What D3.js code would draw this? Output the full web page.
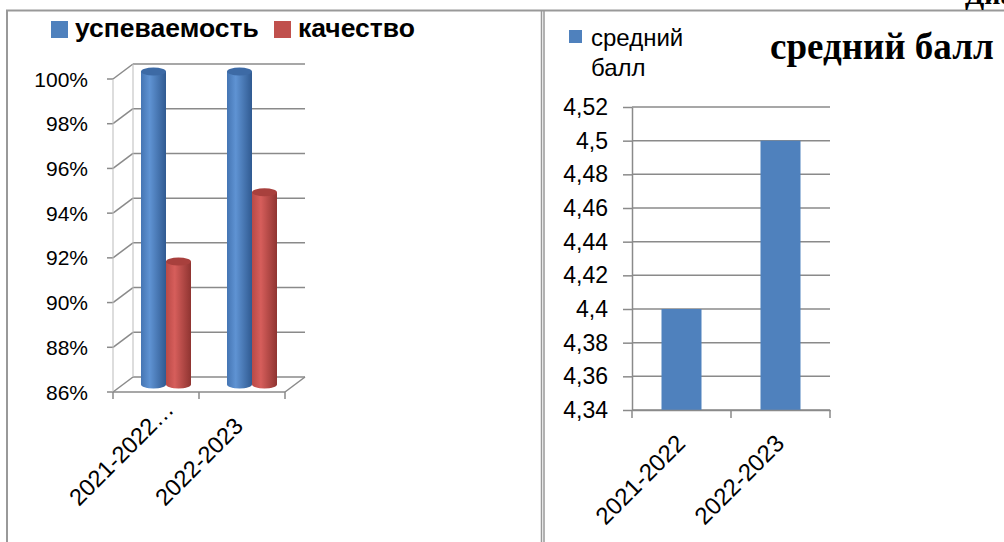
<!DOCTYPE html>
<html lang="ru">
<head>
<meta charset="utf-8">
<title>успеваемость и средний балл</title>
<script src="https://cdnjs.cloudflare.com/ajax/libs/d3/7.8.5/d3.min.js"></script>
<style>
  body { margin: 0; background: #fff; }
  svg text { font-family: "Liberation Sans", Arial, sans-serif; fill: #000; }
</style>
</head>
<body>
<div id="chart"></div>
<script>
// --- data ---
var categories = ["2021-2022…", "2022-2023"];
var seriesNames = ["успеваемость", "качество"];
var uspevaemost = [100, 100];
var kachestvo = [91.5, 94.6];
var leftTicks = [86, 88, 90, 92, 94, 96, 98, 100];

var avgCategories = ["2021-2022", "2022-2023"];
var avgScore = [4.4, 4.5];
var rightTicks = [4.34, 4.36, 4.38, 4.4, 4.42, 4.44, 4.46, 4.48, 4.5, 4.52];

var blue = "#4F81BD", red = "#C0504D", grid = "#8a8a8a";

var svg = d3.select("#chart").append("svg")
    .attr("width", 1004)
    .attr("height", 542);

// frames
svg.append("line").attr("x1", 6).attr("x2", 1004).attr("y1", 10.5).attr("y2", 10.5)
   .attr("stroke", "#999").attr("stroke-width", 2);
svg.append("line").attr("x1", 7).attr("x2", 7).attr("y1", 10).attr("y2", 542)
   .attr("stroke", "#999").attr("stroke-width", 2);
svg.append("line").attr("x1", 541.5).attr("x2", 541.5).attr("y1", 10).attr("y2", 542)
   .attr("stroke", "#999").attr("stroke-width", 1.5);
svg.append("line").attr("x1", 544).attr("x2", 544).attr("y1", 10).attr("y2", 542)
   .attr("stroke", "#999").attr("stroke-width", 1.5);

// heading of the page, cut off at the top as in the original
svg.append("text").attr("x", 965).attr("y", 4)
   .style("font-family", "'Liberation Serif', serif").style("font-weight", "bold")
   .style("font-size", "28px").text("Диаграмма");

// ================= left: 3D cylinders =================
var dx = 20, dy = -15;   // depth of the 3D box
var yL = d3.scaleLinear().domain([86, 100]).range([392, 79]);
var xL = d3.scaleBand().domain(categories).range([113, 285]);

var defs = svg.append("defs");
function cylGrad(id, c1, c2, c3) {
  var g = defs.append("linearGradient").attr("id", id)
      .attr("x1", "0%").attr("x2", "100%").attr("y1", "0%").attr("y2", "0%");
  g.append("stop").attr("offset", "0%").attr("stop-color", c1);
  g.append("stop").attr("offset", "35%").attr("stop-color", c2);
  g.append("stop").attr("offset", "100%").attr("stop-color", c3);
}
cylGrad("gBlue", "#4575b3", "#5f93d3", "#305a91");
cylGrad("gRed", "#b94a47", "#d65e5b", "#8f3431");

var left = svg.append("g");

// back wall gridlines + side wall diagonals
leftTicks.forEach(function(t) {
  var y = yL(t);
  left.append("line").attr("x1", xL.range()[0] + dx).attr("x2", xL.range()[1] + dx)
      .attr("y1", y + dy).attr("y2", y + dy).attr("stroke", grid).attr("stroke-width", 1.5);
  left.append("line").attr("x1", xL.range()[0]).attr("x2", xL.range()[0] + dx)
      .attr("y1", y).attr("y2", y + dy).attr("stroke", grid).attr("stroke-width", 1.5);
  left.append("line").attr("x1", xL.range()[0] - 6).attr("x2", xL.range()[0])
      .attr("y1", y).attr("y2", y).attr("stroke", grid).attr("stroke-width", 1.5);
});
// walls verticals
left.append("line").attr("x1", 113).attr("x2", 113).attr("y1", yL(100)).attr("y2", yL(86))
    .attr("stroke", "#bbb").attr("stroke-width", 1);
left.append("line").attr("x1", 113 + dx).attr("x2", 113 + dx).attr("y1", yL(100) + dy).attr("y2", yL(86) + dy)
    .attr("stroke", "#bbb").attr("stroke-width", 1);
// floor
left.append("line").attr("x1", 113).attr("x2", 285).attr("y1", yL(86)).attr("y2", yL(86))
    .attr("stroke", grid).attr("stroke-width", 1.5);
left.append("line").attr("x1", 285).attr("x2", 285 + dx).attr("y1", yL(86)).attr("y2", yL(86) + dy)
    .attr("stroke", grid).attr("stroke-width", 1.5);
[113, 199, 285].forEach(function(x) {
  left.append("line").attr("x1", x).attr("x2", x).attr("y1", yL(86)).attr("y2", yL(86) + 7)
      .attr("stroke", grid).attr("stroke-width", 1.5);
});

// y labels
left.selectAll("text.yl").data(leftTicks).enter().append("text")
    .attr("x", 88).attr("y", function(d) { return yL(d); })
    .attr("dy", "0.36em").attr("text-anchor", "end")
    .style("font-size", "21px").text(function(d) { return d + "%"; });

// cylinders
var bw = 25, ry = 4;
var series = [uspevaemost, kachestvo];
var fills = ["url(#gBlue)", "url(#gRed)"];
var tops = ["#3d6aa5", "#a8403d"];
categories.forEach(function(c, i) {
  series.forEach(function(vals, s) {
    var x0 = xL(c) + xL.bandwidth() / 2 + dx / 2 - bw + s * bw;
    var yTop = yL(vals[i]) + dy / 2;
    var yBot = yL(86) + dy / 2;
    left.append("ellipse").attr("cx", x0 + bw / 2).attr("cy", yBot).attr("rx", bw / 2).attr("ry", ry)
        .attr("fill", fills[s]);
    left.append("rect").attr("x", x0).attr("y", yTop).attr("width", bw).attr("height", yBot - yTop)
        .attr("fill", fills[s]);
    left.append("ellipse").attr("cx", x0 + bw / 2).attr("cy", yTop).attr("rx", bw / 2).attr("ry", ry)
        .attr("fill", tops[s]);
  });
});

// x labels (rotated, anchored at their lower-left start)
left.selectAll("text.xl").data(categories).enter().append("text")
    .attr("text-anchor", "start")
    .attr("transform", function(d) {
      return "translate(" + (xL(d) + xL.bandwidth() / 2 - 77) + "," + (yL(86) + 115) + ") rotate(-45)";
    })
    .style("font-size", "23.5px").text(function(d) { return d; });

// legend
var legColors = [blue, red];
var legX = [51, 274];
seriesNames.forEach(function(n, i) {
  svg.append("rect").attr("x", legX[i]).attr("y", 21).attr("width", 17).attr("height", 17)
     .attr("fill", legColors[i]);
  svg.append("text").attr("x", legX[i] + 24).attr("y", 37)
     .style("font-size", "26.5px").style("font-weight", "bold").text(n);
});

// ================= right: average score =================
var yR = d3.scaleLinear().domain([4.34, 4.52]).range([410, 107]);
var xR = d3.scaleBand().domain(avgCategories).range([632, 830]);
var fmt = function(d) { return String(d).replace(".", ","); };

var right = svg.append("g");
right.selectAll("line.grid").data(rightTicks).enter().append("line")
    .attr("x1", 632).attr("x2", 830)
    .attr("y1", function(d) { return yR(d); }).attr("y2", function(d) { return yR(d); })
    .attr("stroke", grid).attr("stroke-width", 1.5);

right.selectAll("rect.bar").data(avgScore).enter().append("rect")
    .attr("x", function(d, i) { return xR(avgCategories[i]) + xR.bandwidth() / 2 - 20; })
    .attr("y", function(d) { return yR(d); })
    .attr("width", 40)
    .attr("height", function(d) { return yR(4.34) - yR(d); })
    .attr("fill", blue);

var yAxis = right.append("g").attr("transform", "translate(632,0)")
    .call(d3.axisLeft(yR).tickValues(rightTicks).tickFormat(fmt).tickSize(9).tickSizeOuter(0).tickPadding(15));
yAxis.selectAll("line, path").attr("stroke", grid).attr("stroke-width", 1.5);
yAxis.selectAll("text").style("font-size", "23px").style("font-family", "'Liberation Sans', sans-serif")
    .attr("fill", "#000");

var xAxis = right.append("g").attr("transform", "translate(0,410)")
    .call(d3.axisBottom(xR).tickSize(0).tickFormat(""));
xAxis.select("path").attr("stroke", grid).attr("stroke-width", 1.5);
[632, 731, 830].forEach(function(x) {
  right.append("line").attr("x1", x).attr("x2", x).attr("y1", 410).attr("y2", 418)
      .attr("stroke", grid).attr("stroke-width", 1.5);
});

right.selectAll("text.xl").data(avgCategories).enter().append("text")
    .attr("text-anchor", "start")
    .attr("transform", function(d) {
      return "translate(" + (xR(d) + xR.bandwidth() / 2 - 76) + "," + 526 + ") rotate(-45)";
    })
    .style("font-size", "24px").text(function(d) { return d; });

// legend + title
svg.append("rect").attr("x", 569).attr("y", 30).attr("width", 13).attr("height", 13).attr("fill", blue);
svg.append("text").attr("x", 591).attr("y", 46).style("font-size", "24px").text("средний");
svg.append("text").attr("x", 591).attr("y", 76).style("font-size", "24px").text("балл");
svg.append("text").attr("x", 770).attr("y", 59)
   .style("font-family", "'Liberation Serif', serif").style("font-weight", "bold")
   .style("font-size", "37px").text("средний балл");
</script>
</body>
</html>
